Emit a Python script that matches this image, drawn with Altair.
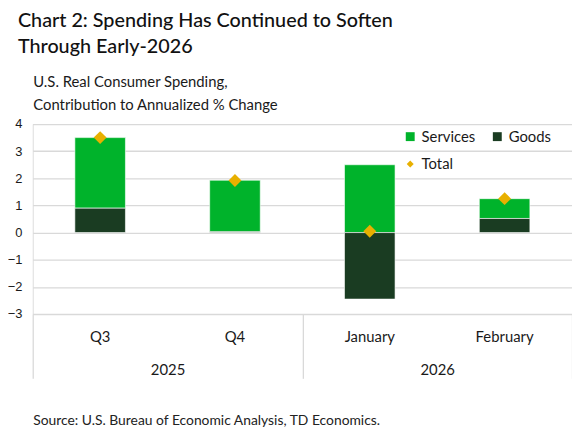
import altair as alt
import pandas as pd

periods = ["Q3", "Q4", "January", "February"]
years = ["2025", "2025", "2026", "2026"]
services = [2.6, 1.9, 2.5, 0.73]
goods = [0.9, 0.03, -2.45, 0.52]
total = [3.5, 1.92, 0.05, 1.25]
y_ticks = [-3, -2, -1, 0, 1, 2, 3, 4]

bars_df = pd.DataFrame({
    "period": periods * 2,
    "year": years * 2,
    "series": ["Services"] * 4 + ["Goods"] * 4,
    "value": services + goods,
    "order": [2] * 4 + [1] * 4,
})
tot_df = pd.DataFrame({"period": periods, "year": years, "value": total, "label": ["Total"] * 4})
year_df = pd.DataFrame({"year": ["2025", "2026"]})

FONT = "Lato"
GRID = "#d9d9d9"
TXT = "#1a1a1a"

xscale = alt.Scale(domain=periods, paddingInner=0.625, paddingOuter=0.3125)
yscale = alt.Scale(domain=[-3, 4], nice=False)

x_month = alt.X(
    "period:N", scale=xscale, sort=periods,
    axis=alt.Axis(title=None, orient="bottom", domain=False, ticks=False, labelAngle=0,
                  labelPadding=16, labelFont=FONT, labelFontSize=15, labelColor=TXT),
)

yaxis = alt.Axis(
    values=y_ticks,
    title=["U.S. Real Consumer Spending,", "Contribution to Annualized % Change"],
    titleAngle=0, titleX=0, titleY=-38, titleAlign="left", titleBaseline="alphabetic",
    titleFont=FONT, titleFontSize=15, titleFontWeight="normal", titleLineHeight=23, titleColor=TXT,
    domain=False, ticks=False, labelPadding=11, labelOverlap=False, grid=True, gridColor=GRID,
    gridWidth=1.3, labelFont="Liberation Sans", labelFontSize=13, labelColor=TXT,
)

bars = alt.Chart(bars_df).mark_bar(stroke="white", strokeWidth=0.6).encode(
    x=x_month,
    y=alt.Y("value:Q", scale=yscale, axis=yaxis, stack="zero"),
    color=alt.Color(
        "series:N",
        scale=alt.Scale(domain=["Services", "Goods"], range=["#00b32b", "#1a3c22"]),
        legend=alt.Legend(title=None, orient="none", legendX=374, legendY=5, direction="horizontal",
                          symbolType="square", symbolSize=81, symbolStrokeWidth=0,
                          labelFont=FONT, labelFontSize=15, labelColor=TXT,
                          columnPadding=14, labelOffset=4),
    ),
    order=alt.Order("order:Q"),
)

points = alt.Chart(tot_df).mark_point(shape="diamond", filled=True, size=170, color="#e8b000", opacity=1).encode(
    x=alt.X("period:N", scale=xscale, sort=periods, axis=None),
    y=alt.Y("value:Q", scale=yscale, axis=yaxis),
    shape=alt.Shape(
        "label:N", scale=alt.Scale(range=["diamond"]),
        legend=alt.Legend(title=None, orient="none", legendX=374, legendY=33, symbolSize=50,
                          symbolFillColor="#e8b000", symbolStrokeColor="#e8b000",
                          labelFont=FONT, labelFontSize=15, labelColor=TXT, labelOffset=4),
    ),
)

year_layer = alt.Chart(year_df).mark_point(opacity=0).encode(
    x=alt.X(
        "year:N", scale=alt.Scale(domain=["2025", "2026"], paddingInner=0, paddingOuter=0),
        axis=alt.Axis(orient="bottom", title="Source: U.S. Bureau of Economic Analysis, TD Economics.",
                      titleX=0, titleY=112, titleAlign="left", titleBaseline="alphabetic",
                      titleFont=FONT, titleFontSize=14, titleFontWeight="normal", titleColor="#222",
                      tickBand="extent", ticks=True, tickSize=65, tickColor=GRID, tickWidth=1.3,
                      domain=False, labelAngle=0, labelPadding=-16, labelFont=FONT,
                      labelFontSize=15, labelColor=TXT),
    ),
    y=alt.value(0),
)

chart = alt.layer(bars, points, year_layer).resolve_scale(x="independent").resolve_axis(x="independent").properties(
    width=545, height=192,
    autosize=alt.AutoSizeParams(type="none"),
    padding={"left": 25, "top": 115, "right": 0, "bottom": 118},
    title=alt.TitleParams(
        text=["Chart 2: Spending Has Continued to Soften", "Through Early-2026"],
        anchor="start", frame="group", dx=-15, offset=18, font=FONT, fontSize=20, fontWeight=500,
        color="#111", lineHeight=26,
    ),
).configure_view(stroke=None).configure_axisY(labelOverlap=False).configure(background="white")

chart.save("out.html", embed_options={"renderer": "svg", "actions": False})
